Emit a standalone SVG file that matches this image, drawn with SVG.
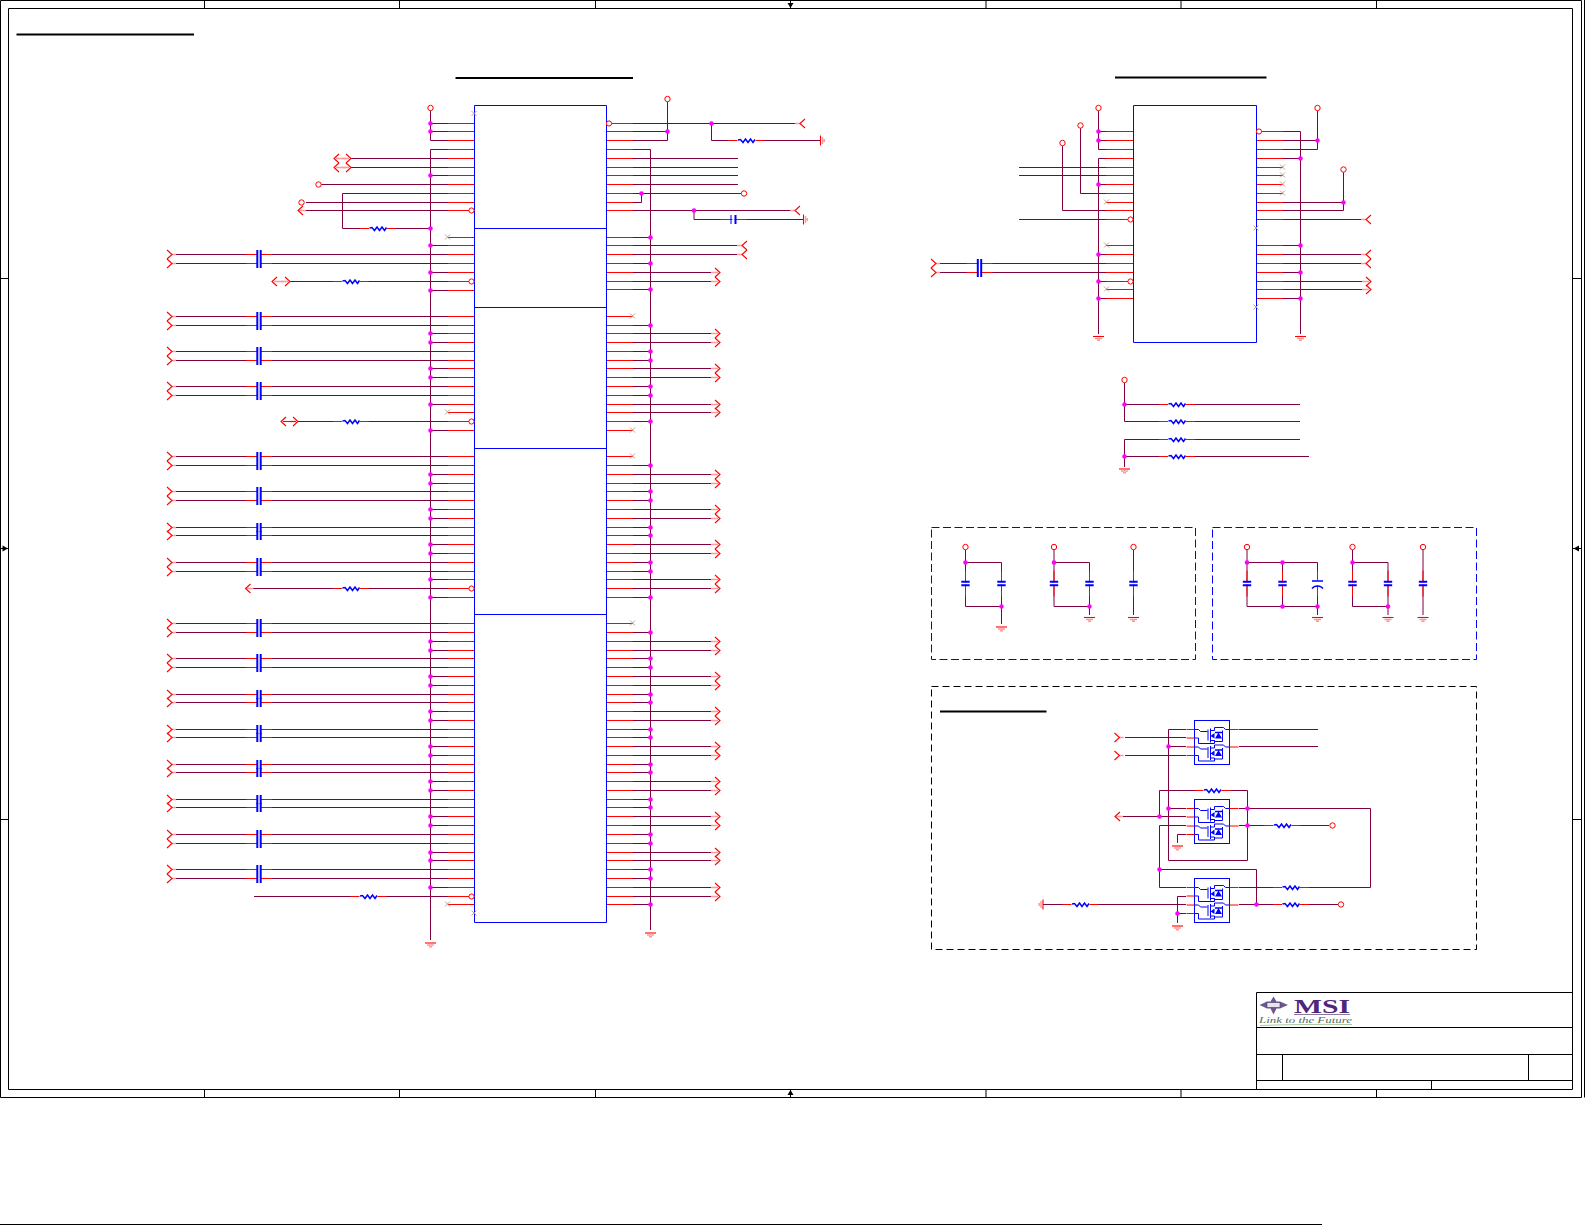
<svg xmlns="http://www.w3.org/2000/svg" width="1585" height="1225" viewBox="0 0 1585 1225">
<style>
.w{fill:none;stroke:#800040;stroke-width:1}
.p{fill:none;stroke:#ff0000;stroke-width:1}
.c{fill:none;stroke:#ff0000;stroke-width:1.1}
.pk{fill:none;stroke:#ff9a9a;stroke-width:1.5}
.b{fill:none;stroke:#0000ff;stroke-width:1}
.k{fill:none;stroke:#000;stroke-width:1}
.hd{fill:none;stroke:#000;stroke-width:2}
.j{fill:none;stroke:#ff00ff;stroke-width:4.6;stroke-linecap:round}
.x{fill:none;stroke:#b89880;stroke-width:.9}
.o{fill:#fff;stroke:#ff0000;stroke-width:1}
.d{fill:none;stroke:#0000ff;stroke-width:1;stroke-dasharray:8 3.5}
.dk{fill:none;stroke:#000;stroke-width:1;stroke-dasharray:7 4}
.t{fill:#0000ff;stroke:none}
</style>
<defs>
<path id="chl" class="c" d="M5 -4.5L0 0L5 4.5"/>
<g id="ar"><path class="pk" d="M-9 0H-2"/><path class="c" d="M-5 -4.5L0 0L-5 4.5"/></g>
<g id="ai"><path class="pk" d="M0 0H4"/><path class="c" d="M-5 -4.5L0 0L-5 4.5"/></g>
<g id="al"><path class="pk" d="M-5 0H0"/><use href="#chl"/></g>
<g id="af"><path class="pk" d="M1 0H8"/><use href="#chl"/></g>
<g id="gnd"><path class="c" d="M-5.5 0H5.5"/><path class="pk" d="M-3.5 2H3.5M-1.5 3.8H1.5"/></g>
<g id="gr"><path class="c" d="M0 -5V5"/><path class="pk" d="M2 -3.5V3.5M3.8 -1.5V1.5"/></g>
<g id="gl"><path class="c" d="M0 -5V5"/><path class="pk" d="M-2 -3.5V3.5M-3.8 -1.5V1.5"/></g>
<g id="R"><path class="p" d="M-18 0H18"/><rect x="-9" y="-3" width="18" height="6" fill="#fff"/><path fill="none" stroke="#0000ff" stroke-width="1.5" d="M-8.5 -.5L-6 -1L-3.5 2L-1 -1.5L1.5 2L4 -1.5L6.5 2L8.5 -1"/></g>
<g id="cd"><path class="p" d="M-13 0H13"/><rect x="-1" y="-3" width="2" height="6" fill="#fff"/><path fill="none" stroke="#0000ff" stroke-width="2" d="M-1.7 -4.5V4.5M1.7 -4.5V4.5"/></g>
<g id="ch"><path class="p" d="M-13 0H13"/><rect x="-1" y="-3" width="2" height="6" fill="#fff"/><path class="b" d="M-2.5 -4.5V4.5"/><path fill="none" stroke="#0000ff" stroke-width="2" d="M2 -4.5V4.5"/></g>
<g id="cv"><path class="p" d="M0 -13V13"/><rect x="-3" y="-1" width="6" height="2" fill="#fff"/><path fill="none" stroke="#0000ff" stroke-width="2" d="M-4.2 -1.7H4.2M-4.2 1.7H4.2"/></g>
<g id="ce"><path class="p" d="M0 -13V13"/><rect x="-3" y="-3" width="6" height="5" fill="#fff"/><path fill="none" stroke="#0000ff" stroke-width="1.5" d="M-5.5 -2.5H5.5M-5.5 5C-3 1.5 3 1.5 5.5 5"/></g>
<g id="fet"><path class="b" d="M0 9H4L6 11H13M13.5 9V20M16 8V22M16 10H20V7H29L31 9H35M16 20H20V21H28V10M0 17.5H4V23H20V20"/><path class="t" d="M16 15.5L20 12.5V18ZM20.5 18L27.5 18L24 12Z"/><path fill="none" stroke="#0000ff" stroke-width="1.5" d="M20.5 12H27.5"/></g>
<g id="mos"><rect class="b" width="35" height="44" fill="#fff"/><use href="#fet"/><use href="#fet" y="17.5"/><path class="p" d="M-8 9H0M-8 17.5H0M-8 26.5H0M-8 35H0M35 9H44M35 26.5H44"/></g>
</defs>

<g id="frame">
<path class="k" d="M.5 .5H1581.5V1097.5H.5ZM8.5 8.5H1572.5V1089.5H8.5ZM1584.5 0V1097.5"/>
<path class="k" d="M204.5 0V9M399.5 0V9M595.5 0V9M790.5 0V9M986 0V9M1181 0V9M1376.5 0V9M204.5 1089V1097M399.5 1089V1097M595.5 1089V1097M790.5 1089V1097M986 1089V1097M1181 1089V1097M1376.5 1089V1097M0 278.5H9M0 548.5H9M0 819.5H9M1572 278.5H1582M1572 548.5H1582M1572 819.5H1582"/>
<path fill="#000" d="M787.5 3L793.5 3L790.5 8ZM787.5 1095L793.5 1095L790.5 1090ZM2.5 545.5V551.5L8 548.5ZM1579 545.5V551.5L1573.5 548.5Z"/>
<path class="k" d="M0 1224.5H1322"/>
<path class="hd" d="M16.5 34.5H194M455.5 78H633M1115 77.5H1266.5M940 711.5H1046.5"/>
</g>

<g id="connectors">
<path class="w" d="M430.5 110V140.5H448M430.5 123.5H448M430.5 131.5H448M448 149.5H430.5V940M351 158.5H448M351 167.5H448M430 175.5H448M321 184.5H448M448 193.5H342.5V228.5H430M306 202.5H448M303 210.5H448M430 245.5H448M172 254.5H448M172 263.5H448M430 272.5H448M290 281.5H448M430 290.5H448M172 316.5H448M172 325.5H448M430 333.5H448M430 342.5H448M172 351.5H448M172 360.5H448M430 368.5H448M430 377.5H448M172 386.5H448M172 395.5H448M430 404.5H448M298 421.5H448M430 430.5H448M172 456.5H448M172 465.5H448M430 474.5H448M430 483.5H448M172 491.5H448M172 500.5H448M430 509.5H448M430 518.5H448M172 527.5H448M172 535.5H448M430 544.5H448M430 553.5H448M172 562.5H448M172 571.5H448M430 579.5H448M250 588.5H448M430 597.5H448M172 623.5H448M172 632.5H448M430 641.5H448M430 650.5H448M172 658.5H448M172 667.5H448M430 676.5H448M430 685.5H448M172 694.5H448M172 702.5H448M430 711.5H448M430 720.5H448M172 729.5H448M172 737.5H448M430 746.5H448M430 755.5H448M172 764.5H448M172 772.5H448M430 781.5H448M430 790.5H448M172 799.5H448M172 807.5H448M430 816.5H448M430 825.5H448M172 834.5H448M172 843.5H448M430 852.5H448M430 860.5H448M172 869.5H448M172 878.5H448M430 887.5H448M254 896.5H448"/>
<path class="w" d="M633 123.5H800M711.5 123.5V140.5H820M633 131.5H667.5M667.5 102V140.5H633M633 149.5H650.5V930M633 158.5H738M633 167.5H738M633 175.5H738M633 184.5H738M633 193.5H741M641.5 193.5V202.5H633M633 210.5H795M694 210.5V219.5H803M633 237.5H650M633 245.5H742M633 254.5H742M633 263.5H650M633 272.5H716M633 281.5H716M633 289.5H650M633 325.5H650M633 333.5H716M633 342.5H716M633 351.5H650M633 360.5H650M633 368.5H716M633 377.5H716M633 386.5H650M633 395.5H650M633 404.5H716M633 412.5H716M633 421.5H650M633 465.5H650M633 474.5H716M633 483.5H716M633 491.5H650M633 500.5H650M633 509.5H716M633 518.5H716M633 527.5H650M633 535.5H650M633 544.5H716M633 553.5H716M633 562.5H650M633 571.5H650M633 579.5H716M633 588.5H716M633 597.5H650M633 632.5H650M633 641.5H716M633 650.5H716M633 658.5H650M633 667.5H650M633 676.5H716M633 685.5H716M633 694.5H650M633 702.5H650M633 711.5H716M633 720.5H716M633 729.5H650M633 737.5H650M633 746.5H716M633 755.5H716M633 764.5H650M633 772.5H650M633 781.5H716M633 790.5H716M633 799.5H650M633 807.5H650M633 816.5H716M633 825.5H716M633 834.5H650M633 843.5H650M633 852.5H716M633 860.5H716M633 869.5H650M633 878.5H650M633 887.5H716M633 896.5H716M633 904.5H650"/>
<path class="w" d="M1098.5 111V149.5H1106M1098.5 131.5H1106M1098.5 140.5H1106M1106 158.5H1098.5V334M1019 167.5H1106M1019 175.5H1106M1098 184.5H1106M1080.5 128V193.5H1106M1062.5 146V210.5H1106M1019 219.5H1106M1098 254.5H1106M936 263.5H1106M936 272.5H1106M1098 281.5H1106M1098 298.5H1106"/>
<path class="w" d="M1283 131.5H1300.5V334M1283 140.5H1317.5M1317.5 111V149.5H1283M1283 158.5H1300M1283 202.5H1343.5M1343.5 172V210.5H1283M1283 219.5H1366M1283 245.5H1300M1283 254.5H1366M1283 263.5H1366M1283 272.5H1300M1283 281.5H1366M1283 289.5H1366M1283 298.5H1300"/>
<path class="w" d="M1124.5 383V421.5H1300M1124.5 404.5H1300M1300 439.5H1124.5V467M1124.5 456.5H1309"/>
<path class="w" d="M965.5 550V606.5H1001.5M965.5 562.5H1001.5V624M1054 550V606.5H1089.5M1054 562.5H1089.5V615M1133.5 550V615M1247 550V606.5H1317.5M1247 562.5H1317.5V615M1282.5 562.5V606.5M1352.5 550V606.5H1388M1352.5 562.5H1388V615M1423 550V615"/>
<path class="w" d="M1168.5 729.5H1186M1168.5 729.5V860.5H1247.5V790.5H1159.5V816.5M1168.5 746.5H1186M1168.5 808.5H1186M1125 737.5H1186M1125 755.5H1186M1239 729.5H1318M1239 746.5H1318M1120 816.5H1186M1186 825.5H1159.5V887.5H1186M1159.5 869.5H1256.5V904.5M1177.5 843V834.5H1186M1239 808.5H1370.5V887.5H1239M1239 825.5H1329M1177.5 923V896.5H1186M1177.5 913.5H1186M1043 904.5H1186M1239 904.5H1338"/>
<path class="p" d="M448 123.5h26M448 131.5h26M448 140.5h26M448 149.5h26M448 158.5h26M448 167.5h26M448 175.5h26M448 184.5h26M448 193.5h26M448 202.5h26M448 210.5h26M448 237.5h26M448 245.5h26M448 254.5h26M448 263.5h26M448 272.5h26M448 281.5h26M448 290.5h26M448 316.5h26M448 325.5h26M448 333.5h26M448 342.5h26M448 351.5h26M448 360.5h26M448 368.5h26M448 377.5h26M448 386.5h26M448 395.5h26M448 404.5h26M448 412.5h26M448 421.5h26M448 430.5h26M448 456.5h26M448 465.5h26M448 474.5h26M448 483.5h26M448 491.5h26M448 500.5h26M448 509.5h26M448 518.5h26M448 527.5h26M448 535.5h26M448 544.5h26M448 553.5h26M448 562.5h26M448 571.5h26M448 579.5h26M448 588.5h26M448 597.5h26M448 623.5h26M448 632.5h26M448 641.5h26M448 650.5h26M448 658.5h26M448 667.5h26M448 676.5h26M448 685.5h26M448 694.5h26M448 702.5h26M448 711.5h26M448 720.5h26M448 729.5h26M448 737.5h26M448 746.5h26M448 755.5h26M448 764.5h26M448 772.5h26M448 781.5h26M448 790.5h26M448 799.5h26M448 807.5h26M448 816.5h26M448 825.5h26M448 834.5h26M448 843.5h26M448 852.5h26M448 860.5h26M448 869.5h26M448 878.5h26M448 887.5h26M448 896.5h26M448 904.5h26"/>
<path class="p" d="M606 123.5h27M606 131.5h27M606 140.5h27M606 149.5h27M606 158.5h27M606 167.5h27M606 175.5h27M606 184.5h27M606 193.5h27M606 202.5h27M606 210.5h27M606 237.5h27M606 245.5h27M606 254.5h27M606 263.5h27M606 272.5h27M606 281.5h27M606 289.5h27M606 316.5h27M606 325.5h27M606 333.5h27M606 342.5h27M606 351.5h27M606 360.5h27M606 368.5h27M606 377.5h27M606 386.5h27M606 395.5h27M606 404.5h27M606 412.5h27M606 421.5h27M606 430.5h27M606 456.5h27M606 465.5h27M606 474.5h27M606 483.5h27M606 491.5h27M606 500.5h27M606 509.5h27M606 518.5h27M606 527.5h27M606 535.5h27M606 544.5h27M606 553.5h27M606 562.5h27M606 571.5h27M606 579.5h27M606 588.5h27M606 597.5h27M606 623.5h27M606 632.5h27M606 641.5h27M606 650.5h27M606 658.5h27M606 667.5h27M606 676.5h27M606 685.5h27M606 694.5h27M606 702.5h27M606 711.5h27M606 720.5h27M606 729.5h27M606 737.5h27M606 746.5h27M606 755.5h27M606 764.5h27M606 772.5h27M606 781.5h27M606 790.5h27M606 799.5h27M606 807.5h27M606 816.5h27M606 825.5h27M606 834.5h27M606 843.5h27M606 852.5h27M606 860.5h27M606 869.5h27M606 878.5h27M606 887.5h27M606 896.5h27M606 904.5h27"/>
<path class="p" d="M1106 131.5h27M1106 140.5h27M1106 149.5h27M1106 158.5h27M1106 167.5h27M1106 175.5h27M1106 184.5h27M1106 193.5h27M1106 202.5h27M1106 210.5h27M1106 219.5h27M1106 245.5h27M1106 254.5h27M1106 263.5h27M1106 272.5h27M1106 281.5h27M1106 289.5h27M1106 298.5h27M1256 131.5h27M1256 140.5h27M1256 149.5h27M1256 158.5h27M1256 167.5h27M1256 175.5h27M1256 184.5h27M1256 193.5h27M1256 202.5h27M1256 210.5h27M1256 219.5h27M1256 245.5h27M1256 254.5h27M1256 263.5h27M1256 272.5h27M1256 281.5h27M1256 289.5h27M1256 298.5h27"/>
</g>

<g id="U1">
<path class="b" d="M474.5 105.5H606.5V922.5H474.5ZM474.5 228.5H606.5M474.5 307.5H606.5M474.5 448.5H606.5M474.5 614.5H606.5"/>
<path class="x" d="M471.5 111l5 5m0 -5l-5 5M445 234.5l5 5m0 -5l-5 5M445 409.5l5 5m0 -5l-5 5M445 901.5l5 5m0 -5l-5 5M471.5 910.5l5 5m0 -5l-5 5M630 313.5l5 5m0 -5l-5 5M630 427.5l5 5m0 -5l-5 5M630 453.5l5 5m0 -5l-5 5M630 620.5l5 5m0 -5l-5 5"/>
<circle class="o" cx="471.5" cy="210.5" r="2.6"/><circle class="o" cx="471.5" cy="281.5" r="2.6"/><circle class="o" cx="471.5" cy="421.5" r="2.6"/><circle class="o" cx="471.5" cy="588.5" r="2.6"/><circle class="o" cx="471.5" cy="896.5" r="2.6"/><circle class="o" cx="609" cy="123.5" r="2.6"/>
</g>

<g id="U1-left-symbols">
<circle class="o" cx="430.5" cy="108" r="2.7"/><circle class="o" cx="318.5" cy="184.5" r="2.7"/><circle class="o" cx="301.5" cy="202.5" r="2.7"/>
<use href="#af" x="298" y="210.5"/>
<use href="#chl" x="334" y="158.5"/><use href="#ar" x="351" y="158.5"/><path class="pk" d="M336 158.5H346"/>
<use href="#chl" x="334" y="167.5"/><use href="#ar" x="351" y="167.5"/><path class="pk" d="M336 167.5H346"/>
<use href="#chl" x="272" y="281.5"/><use href="#ar" x="290" y="281.5"/><path class="pk" d="M274 281.5H284"/>
<use href="#chl" x="281" y="421.5"/><use href="#ar" x="298" y="421.5"/><path class="p" d="M283 421.5H296"/>
<use href="#af" x="245.5" y="588.5"/>
<use href="#gnd" x="430.5" y="943"/>
<use href="#R" x="378" y="228.5"/><use href="#R" x="351" y="281.5"/><use href="#R" x="351" y="421.5"/><use href="#R" x="351" y="588.5"/><use href="#R" x="368.5" y="896.5"/>
</g>
<g id="C-pair-1"><use href="#ai" x="172" y="254.5"/><use href="#ai" x="172" y="263.5"/><use href="#cd" x="259" y="254.5"/><use href="#cd" x="259" y="263.5"/></g>
<g id="C-pair-2"><use href="#ai" x="172" y="316.5"/><use href="#ai" x="172" y="325.5"/><use href="#cd" x="259" y="316.5"/><use href="#cd" x="259" y="325.5"/></g>
<g id="C-pair-3"><use href="#ai" x="172" y="351.5"/><use href="#ai" x="172" y="360.5"/><use href="#cd" x="259" y="351.5"/><use href="#cd" x="259" y="360.5"/></g>
<g id="C-pair-4"><use href="#ai" x="172" y="386.5"/><use href="#ai" x="172" y="395.5"/><use href="#cd" x="259" y="386.5"/><use href="#cd" x="259" y="395.5"/></g>
<g id="C-pair-5"><use href="#ai" x="172" y="456.5"/><use href="#ai" x="172" y="465.5"/><use href="#cd" x="259" y="456.5"/><use href="#cd" x="259" y="465.5"/></g>
<g id="C-pair-6"><use href="#ai" x="172" y="491.5"/><use href="#ai" x="172" y="500.5"/><use href="#cd" x="259" y="491.5"/><use href="#cd" x="259" y="500.5"/></g>
<g id="C-pair-7"><use href="#ai" x="172" y="527.5"/><use href="#ai" x="172" y="535.5"/><use href="#cd" x="259" y="527.5"/><use href="#cd" x="259" y="535.5"/></g>
<g id="C-pair-8"><use href="#ai" x="172" y="562.5"/><use href="#ai" x="172" y="571.5"/><use href="#cd" x="259" y="562.5"/><use href="#cd" x="259" y="571.5"/></g>
<g id="C-pair-9"><use href="#ai" x="172" y="623.5"/><use href="#ai" x="172" y="632.5"/><use href="#cd" x="259" y="623.5"/><use href="#cd" x="259" y="632.5"/></g>
<g id="C-pair-10"><use href="#ai" x="172" y="658.5"/><use href="#ai" x="172" y="667.5"/><use href="#cd" x="259" y="658.5"/><use href="#cd" x="259" y="667.5"/></g>
<g id="C-pair-11"><use href="#ai" x="172" y="694.5"/><use href="#ai" x="172" y="702.5"/><use href="#cd" x="259" y="694.5"/><use href="#cd" x="259" y="702.5"/></g>
<g id="C-pair-12"><use href="#ai" x="172" y="729.5"/><use href="#ai" x="172" y="737.5"/><use href="#cd" x="259" y="729.5"/><use href="#cd" x="259" y="737.5"/></g>
<g id="C-pair-13"><use href="#ai" x="172" y="764.5"/><use href="#ai" x="172" y="772.5"/><use href="#cd" x="259" y="764.5"/><use href="#cd" x="259" y="772.5"/></g>
<g id="C-pair-14"><use href="#ai" x="172" y="799.5"/><use href="#ai" x="172" y="807.5"/><use href="#cd" x="259" y="799.5"/><use href="#cd" x="259" y="807.5"/></g>
<g id="C-pair-15"><use href="#ai" x="172" y="834.5"/><use href="#ai" x="172" y="843.5"/><use href="#cd" x="259" y="834.5"/><use href="#cd" x="259" y="843.5"/></g>
<g id="C-pair-16"><use href="#ai" x="172" y="869.5"/><use href="#ai" x="172" y="878.5"/><use href="#cd" x="259" y="869.5"/><use href="#cd" x="259" y="878.5"/></g>

<g id="U1-right-symbols">
<circle class="o" cx="667.5" cy="99" r="2.7"/><circle class="o" cx="744" cy="193.5" r="2.7"/>
<use href="#al" x="800" y="123.5"/><use href="#R" x="746.5" y="140.5"/><use href="#gr" x="820.5" y="140.5"/>
<use href="#al" x="795" y="210.5"/><use href="#ch" x="733.5" y="219.5"/><use href="#gr" x="803.5" y="219.5"/>
<use href="#al" x="742" y="245.5"/><use href="#al" x="742" y="254.5"/>
<use href="#ar" x="720" y="272.5"/><use href="#ar" x="720" y="281.5"/><use href="#ar" x="720" y="333.5"/><use href="#ar" x="720" y="342.5"/><use href="#ar" x="720" y="368.5"/><use href="#ar" x="720" y="377.5"/><use href="#ar" x="720" y="404.5"/><use href="#ar" x="720" y="412.5"/><use href="#ar" x="720" y="474.5"/><use href="#ar" x="720" y="483.5"/><use href="#ar" x="720" y="509.5"/><use href="#ar" x="720" y="518.5"/><use href="#ar" x="720" y="544.5"/><use href="#ar" x="720" y="553.5"/><use href="#ar" x="720" y="579.5"/><use href="#ar" x="720" y="588.5"/><use href="#ar" x="720" y="641.5"/><use href="#ar" x="720" y="650.5"/><use href="#ar" x="720" y="676.5"/><use href="#ar" x="720" y="685.5"/><use href="#ar" x="720" y="711.5"/><use href="#ar" x="720" y="720.5"/><use href="#ar" x="720" y="746.5"/><use href="#ar" x="720" y="755.5"/><use href="#ar" x="720" y="781.5"/><use href="#ar" x="720" y="790.5"/><use href="#ar" x="720" y="816.5"/><use href="#ar" x="720" y="825.5"/><use href="#ar" x="720" y="852.5"/><use href="#ar" x="720" y="860.5"/><use href="#ar" x="720" y="887.5"/><use href="#ar" x="720" y="896.5"/>
<use href="#gnd" x="650.5" y="933"/>
</g>

<g id="U2">
<path class="b" d="M1133.5 105.5H1256.5V342.5H1133.5Z"/>
<path class="x" d="M1104 199.5l5 5m0 -5l-5 5M1104 242.5l5 5m0 -5l-5 5M1104 286.5l5 5m0 -5l-5 5M1280 164.5l5 5m0 -5l-5 5M1280 172.5l5 5m0 -5l-5 5M1280 181.5l5 5m0 -5l-5 5M1280 190.5l5 5m0 -5l-5 5M1253.5 225.5l5 5m0 -5l-5 5M1253.5 304.5l5 5m0 -5l-5 5"/>
<circle class="o" cx="1130.5" cy="219.5" r="2.6"/><circle class="o" cx="1130.5" cy="281.5" r="2.6"/><circle class="o" cx="1259" cy="131.5" r="2.6"/>
<circle class="o" cx="1098.5" cy="108" r="2.7"/><circle class="o" cx="1080.5" cy="125.5" r="2.7"/><circle class="o" cx="1062.5" cy="143" r="2.7"/><circle class="o" cx="1317.5" cy="108" r="2.7"/><circle class="o" cx="1343.5" cy="169.5" r="2.7"/>
<use href="#gnd" x="1098.5" y="336.5"/><use href="#gnd" x="1300.5" y="336.5"/>
<use href="#al" x="1366" y="219.5"/><use href="#al" x="1366" y="254.5"/><use href="#al" x="1366" y="263.5"/><use href="#ar" x="1371" y="281.5"/><use href="#ar" x="1371" y="289.5"/>
</g>
<g id="C-pair-17"><use href="#ai" x="936" y="263.5"/><use href="#ai" x="936" y="272.5"/><use href="#cd" x="979.5" y="263.5"/><use href="#cd" x="979.5" y="272.5"/></g>

<g id="R-block">
<circle class="o" cx="1124.5" cy="380" r="2.7"/><use href="#gnd" x="1124.5" y="469"/>
<use href="#R" x="1177" y="404.5"/><use href="#R" x="1177" y="421.5"/><use href="#R" x="1177" y="439.5"/><use href="#R" x="1177" y="456.5"/>
</g>

<g id="decap-a">
<rect class="d" x="931.5" y="527.5" width="264" height="132"/>
<circle class="o" cx="965.5" cy="547" r="2.7"/><circle class="o" cx="1054" cy="547" r="2.7"/><circle class="o" cx="1133.5" cy="547" r="2.7"/>
<use href="#cv" x="965.5" y="583.5"/><use href="#cv" x="1001.5" y="583.5"/><use href="#cv" x="1054" y="583.5"/><use href="#cv" x="1089.5" y="583.5"/><use href="#cv" x="1133.5" y="583.5"/>
<use href="#gnd" x="1001.5" y="627"/><use href="#gnd" x="1089.5" y="617.5"/><use href="#gnd" x="1133.5" y="617.5"/>
</g>
<g id="decap-b">
<rect class="d" x="1212.5" y="527.5" width="264" height="132"/>
<circle class="o" cx="1247" cy="547" r="2.7"/><circle class="o" cx="1352.5" cy="547" r="2.7"/><circle class="o" cx="1423" cy="547" r="2.7"/>
<use href="#cv" x="1247" y="583.5"/><use href="#cv" x="1282.5" y="583.5"/><use href="#ce" x="1317.5" y="583.5"/><use href="#cv" x="1352.5" y="583.5"/><use href="#cv" x="1388" y="583.5"/><use href="#cv" x="1423" y="583.5"/>
<use href="#gnd" x="1317.5" y="617.5"/><use href="#gnd" x="1388" y="617.5"/><use href="#gnd" x="1423" y="617.5"/>
</g>

<g id="level-shift">
<rect class="dk" x="931.5" y="686.5" width="545" height="263"/>
<use href="#mos" x="1194.5" y="720.5"/><use href="#mos" x="1194.5" y="799.5"/><use href="#mos" x="1194.5" y="878.5"/>
<use href="#ai" x="1119.5" y="737.5"/><use href="#ai" x="1119.5" y="755.5"/><use href="#af" x="1115" y="816.5"/>
<use href="#R" x="1212.5" y="790.5"/><use href="#R" x="1282.5" y="825.5"/><use href="#R" x="1291" y="887.5"/><use href="#R" x="1291" y="904.5"/><use href="#R" x="1080.5" y="904.5"/>
<circle class="o" cx="1332.5" cy="825.5" r="2.7"/><circle class="o" cx="1341" cy="904.5" r="2.7"/>
<use href="#gnd" x="1177.5" y="846"/><use href="#gnd" x="1177.5" y="926"/><use href="#gl" x="1043" y="904.5"/>
</g>

<g id="junctions">
<path class="j" d="M430.5 123.5h0M430.5 131.5h0M430.5 175.5h0M430.5 228.5h0M430.5 245.5h0M430.5 272.5h0M430.5 290.5h0M430.5 333.5h0M430.5 342.5h0M430.5 368.5h0M430.5 377.5h0M430.5 404.5h0M430.5 430.5h0M430.5 474.5h0M430.5 483.5h0M430.5 509.5h0M430.5 518.5h0M430.5 544.5h0M430.5 553.5h0M430.5 579.5h0M430.5 597.5h0M430.5 641.5h0M430.5 650.5h0M430.5 676.5h0M430.5 685.5h0M430.5 711.5h0M430.5 720.5h0M430.5 746.5h0M430.5 755.5h0M430.5 781.5h0M430.5 790.5h0M430.5 816.5h0M430.5 825.5h0M430.5 852.5h0M430.5 860.5h0M430.5 887.5h0"/>
<path class="j" d="M667.5 131.5h0M711.5 123.5h0M641.5 193.5h0M694 210.5h0M650.5 237.5h0M650.5 263.5h0M650.5 289.5h0M650.5 325.5h0M650.5 351.5h0M650.5 360.5h0M650.5 386.5h0M650.5 395.5h0M650.5 421.5h0M650.5 465.5h0M650.5 491.5h0M650.5 500.5h0M650.5 527.5h0M650.5 535.5h0M650.5 562.5h0M650.5 571.5h0M650.5 597.5h0M650.5 632.5h0M650.5 658.5h0M650.5 667.5h0M650.5 694.5h0M650.5 702.5h0M650.5 729.5h0M650.5 737.5h0M650.5 764.5h0M650.5 772.5h0M650.5 799.5h0M650.5 807.5h0M650.5 834.5h0M650.5 843.5h0M650.5 869.5h0M650.5 878.5h0M650.5 904.5h0"/>
<path class="j" d="M1098.5 131.5h0M1098.5 140.5h0M1098.5 184.5h0M1098.5 254.5h0M1098.5 281.5h0M1098.5 298.5h0M1317.5 140.5h0M1300.5 158.5h0M1343.5 202.5h0M1300.5 245.5h0M1300.5 272.5h0M1300.5 298.5h0M1124.5 404.5h0M1124.5 456.5h0"/>
<path class="j" d="M965.5 562.5h0M1001.5 606.5h0M1054 562.5h0M1089.5 606.5h0M1247 562.5h0M1282.5 562.5h0M1282.5 606.5h0M1317.5 606.5h0M1352.5 562.5h0M1388 606.5h0"/>
<path class="j" d="M1168.5 746.5h0M1168.5 808.5h0M1159.5 816.5h0M1247.5 808.5h0M1247.5 825.5h0M1159.5 869.5h0M1256.5 904.5h0M1177.5 913.5h0"/>
</g>

<g id="title-block">
<path class="k" d="M1256.5 992.5H1572.5M1256.5 992.5V1089.5M1256.5 1027.5H1572.5M1256.5 1054.5H1572.5M1256.5 1080.5H1572.5M1282.5 1054.5V1080.5M1528.5 1054.5V1080.5M1431.5 1080.5V1089.5"/>
<g id="logo">
<path fill="#6a5a8a" d="M1273.5 996.5L1276.5 1001.5H1280L1288 1005L1280 1008.5H1276.5L1273.5 1014.5L1270.5 1008.5H1267L1259.5 1005L1267 1001.5H1270.5Z"/>
<rect x="1267" y="1002.5" width="13" height="5" fill="#e8e4ee" stroke="#4a3a70" stroke-width=".6"/>
<text x="1294" y="1013" font-family="'Liberation Serif',serif" font-weight="700" font-size="19" fill="#51267a" textLength="56" lengthAdjust="spacingAndGlyphs">MSI</text>
<path stroke="#8a7a9a" stroke-width="1.2" d="M1294 1014.5H1350"/>
<text x="1259" y="1023" font-family="'Liberation Serif',serif" font-style="italic" font-size="8.5" fill="#4f6f60" textLength="93" lengthAdjust="spacingAndGlyphs">Link to the Future</text>
<path stroke="#a8c8a0" stroke-width="1" fill="none" d="M1260 1025.5Q1300 1024 1352 1024.5"/>
</g>
</g>
</svg>
